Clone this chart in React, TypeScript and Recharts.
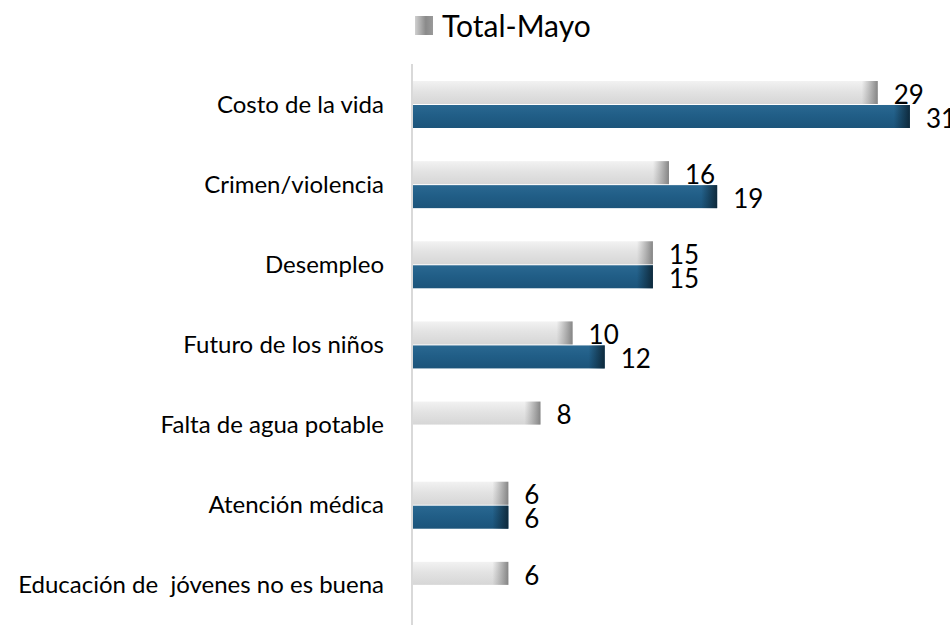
import { BarChart, Bar, XAxis, YAxis, LabelList } from "recharts";

const categories = [
  "Costo de la vida",
  "Crimen/violencia",
  "Desempleo",
  "Futuro de los niños",
  "Falta de agua potable",
  "Atención médica",
  "Educación de \u00a0jóvenes no es buena",
];
const totalMayo = [29, 16, 15, 10, 8, 6, 6];
const otherSeries = [31, 19, 15, 12, null, 6, null];

const legendLabel = "Total-Mayo";

const FONT = "Lato, 'Liberation Sans', sans-serif";

const data = categories.map((name, i) => ({
  name,
  total: totalMayo[i],
  other: otherSeries[i],
}));

// bar body + dark shaded end, like the 3D-ish office style
const makeShape = (body: string, end: string) => (props: any) => {
  const { x, y, width, height } = props;
  if (!width || width <= 0) return null;
  const endW = Math.min(16, width);
  return (
    <g>
      <rect x={x} y={y} width={width} height={height} fill={`url(#${body})`} />
      <rect x={x + width - endW} y={y} width={endW} height={height} fill={`url(#${end})`} />
    </g>
  );
};

const GreyBar = makeShape("greyBody", "greyEnd");
const BlueBar = makeShape("blueBody", "blueEnd");

export default function App() {
  return (
    <div style={{ position: "absolute", left: 0, top: 0, width: 950, height: 625, background: "#fff" }}>
      <div
        style={{
          position: "absolute",
          left: 415,
          top: 7,
          display: "flex",
          alignItems: "center",
          fontFamily: FONT,
          fontSize: 30,
          color: "#000",
          zIndex: 2,
        }}
      >
        <span
          style={{
            display: "inline-block",
            width: 18,
            height: 19,
            marginRight: 9,
            background: "linear-gradient(to right, #d0d0d0, #8a8a8a 60%, #9a9a9a)",
          }}
        />
        <span>{legendLabel}</span>
      </div>
      <BarChart
        width={950}
        height={625}
        data={data}
        layout="vertical"
        margin={{ top: 64, right: 8, bottom: 0, left: 0 }}
        barSize={23}
        barGap={1}
      >
        <defs>
          <linearGradient id="greyBody" x1="0" y1="0" x2="0" y2="1">
            <stop offset="0%" stopColor="#f2f2f2" />
            <stop offset="45%" stopColor="#e3e3e3" />
            <stop offset="100%" stopColor="#d6d6d6" />
          </linearGradient>
          <linearGradient id="greyEnd" x1="0" y1="0" x2="1" y2="0">
            <stop offset="0%" stopColor="#8a8a8a" stopOpacity={0} />
            <stop offset="100%" stopColor="#7a7a7a" stopOpacity={0.9} />
          </linearGradient>
          <linearGradient id="blueBody" x1="0" y1="0" x2="0" y2="1">
            <stop offset="0%" stopColor="#2a6891" />
            <stop offset="45%" stopColor="#215e87" />
            <stop offset="100%" stopColor="#1c547a" />
          </linearGradient>
          <linearGradient id="blueEnd" x1="0" y1="0" x2="1" y2="0">
            <stop offset="0%" stopColor="#0c2636" stopOpacity={0} />
            <stop offset="100%" stopColor="#0c2434" stopOpacity={0.9} />
          </linearGradient>
        </defs>
        <XAxis type="number" domain={[0, 33]} hide />
        <YAxis
          type="category"
          dataKey="name"
          width={412}
          axisLine={{ stroke: "#d9d9d9", strokeWidth: 2 }}
          tickLine={false}
          tickMargin={22}
          interval={0}
          tick={{ fill: "#000", fontSize: 24, fontFamily: FONT }}
        />
        <Bar dataKey="total" shape={GreyBar} isAnimationActive={false}>
          <LabelList
            dataKey="total"
            position="right"
            offset={16}
            dy={2}
            style={{ fill: "#000", fontSize: 26, fontFamily: FONT }}
          />
        </Bar>
        <Bar dataKey="other" shape={BlueBar} isAnimationActive={false}>
          <LabelList
            dataKey="other"
            position="right"
            offset={16}
            dy={2}
            style={{ fill: "#000", fontSize: 26, fontFamily: FONT }}
          />
        </Bar>
      </BarChart>
    </div>
  );
}
